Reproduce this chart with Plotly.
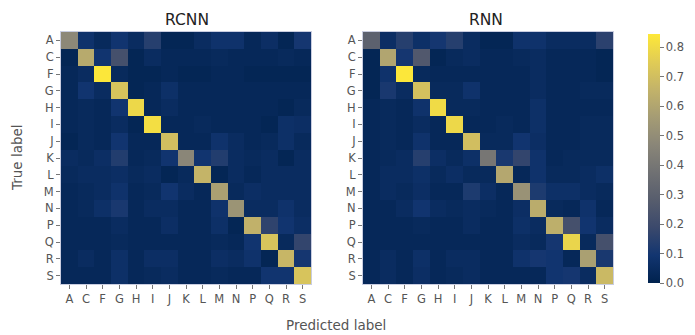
import plotly.graph_objects as go

# Class labels (rows = true label, columns = predicted label)
labels = ["A", "C", "F", "G", "H", "I", "J", "K", "L", "M", "N", "P", "Q", "R", "S"]

# Normalised confusion matrix for the RCNN model
rcnn = [
    [0.48, 0.08, 0.04, 0.09, 0.05, 0.14, 0.02, 0.02, 0.05, 0.08, 0.08, 0.03, 0.06, 0.02, 0.10],
    [0.02, 0.62, 0.09, 0.22, 0.02, 0.05, 0.03, 0.03, 0.03, 0.04, 0.03, 0.03, 0.03, 0.04, 0.03],
    [0.03, 0.05, 0.84, 0.04, 0.02, 0.02, 0.03, 0.02, 0.02, 0.03, 0.03, 0.02, 0.02, 0.02, 0.02],
    [0.03, 0.09, 0.05, 0.72, 0.02, 0.03, 0.07, 0.03, 0.03, 0.03, 0.03, 0.03, 0.03, 0.03, 0.03],
    [0.03, 0.04, 0.03, 0.09, 0.79, 0.03, 0.05, 0.03, 0.03, 0.03, 0.03, 0.03, 0.03, 0.02, 0.04],
    [0.03, 0.04, 0.03, 0.05, 0.02, 0.81, 0.03, 0.03, 0.04, 0.03, 0.03, 0.03, 0.02, 0.07, 0.06],
    [0.02, 0.04, 0.03, 0.09, 0.03, 0.03, 0.70, 0.03, 0.03, 0.08, 0.05, 0.03, 0.04, 0.07, 0.04],
    [0.05, 0.04, 0.06, 0.13, 0.03, 0.04, 0.09, 0.47, 0.09, 0.13, 0.05, 0.04, 0.05, 0.02, 0.05],
    [0.04, 0.05, 0.05, 0.06, 0.04, 0.05, 0.02, 0.04, 0.66, 0.02, 0.05, 0.03, 0.05, 0.05, 0.05],
    [0.03, 0.04, 0.05, 0.08, 0.03, 0.04, 0.09, 0.05, 0.03, 0.58, 0.04, 0.06, 0.05, 0.05, 0.05],
    [0.03, 0.04, 0.07, 0.11, 0.03, 0.05, 0.05, 0.03, 0.03, 0.08, 0.53, 0.05, 0.05, 0.08, 0.05],
    [0.03, 0.03, 0.03, 0.05, 0.03, 0.03, 0.06, 0.03, 0.03, 0.07, 0.02, 0.65, 0.16, 0.09, 0.06],
    [0.03, 0.03, 0.03, 0.04, 0.03, 0.03, 0.03, 0.03, 0.03, 0.04, 0.03, 0.09, 0.72, 0.04, 0.17],
    [0.03, 0.05, 0.03, 0.07, 0.03, 0.06, 0.06, 0.03, 0.03, 0.06, 0.05, 0.08, 0.02, 0.67, 0.10],
    [0.03, 0.03, 0.03, 0.07, 0.03, 0.04, 0.05, 0.03, 0.03, 0.04, 0.03, 0.03, 0.09, 0.09, 0.72],
]

# Normalised confusion matrix for the RNN model
rnn = [
    [0.30, 0.06, 0.14, 0.07, 0.10, 0.14, 0.05, 0.02, 0.02, 0.08, 0.08, 0.05, 0.05, 0.05, 0.15],
    [0.02, 0.60, 0.10, 0.26, 0.02, 0.04, 0.05, 0.03, 0.03, 0.04, 0.05, 0.03, 0.03, 0.03, 0.02],
    [0.02, 0.08, 0.84, 0.04, 0.03, 0.03, 0.03, 0.03, 0.03, 0.03, 0.05, 0.03, 0.03, 0.03, 0.02],
    [0.02, 0.11, 0.05, 0.71, 0.04, 0.04, 0.08, 0.03, 0.03, 0.03, 0.05, 0.03, 0.03, 0.04, 0.04],
    [0.03, 0.04, 0.03, 0.08, 0.80, 0.04, 0.04, 0.03, 0.03, 0.03, 0.07, 0.03, 0.03, 0.03, 0.03],
    [0.03, 0.04, 0.03, 0.05, 0.03, 0.79, 0.03, 0.03, 0.04, 0.03, 0.07, 0.03, 0.03, 0.04, 0.04],
    [0.03, 0.04, 0.03, 0.08, 0.03, 0.03, 0.70, 0.04, 0.04, 0.09, 0.06, 0.03, 0.03, 0.04, 0.04],
    [0.03, 0.04, 0.05, 0.14, 0.06, 0.04, 0.07, 0.40, 0.11, 0.17, 0.08, 0.03, 0.04, 0.04, 0.04],
    [0.03, 0.05, 0.05, 0.07, 0.04, 0.06, 0.04, 0.04, 0.61, 0.03, 0.08, 0.04, 0.04, 0.05, 0.07],
    [0.03, 0.05, 0.04, 0.06, 0.03, 0.03, 0.12, 0.06, 0.03, 0.52, 0.12, 0.07, 0.07, 0.05, 0.04],
    [0.03, 0.03, 0.05, 0.09, 0.05, 0.04, 0.05, 0.04, 0.03, 0.06, 0.63, 0.04, 0.03, 0.08, 0.03],
    [0.03, 0.03, 0.03, 0.04, 0.03, 0.03, 0.05, 0.03, 0.03, 0.07, 0.05, 0.64, 0.22, 0.09, 0.05],
    [0.03, 0.03, 0.03, 0.03, 0.03, 0.03, 0.03, 0.03, 0.03, 0.05, 0.04, 0.10, 0.78, 0.04, 0.22],
    [0.03, 0.05, 0.03, 0.07, 0.03, 0.05, 0.05, 0.03, 0.03, 0.08, 0.10, 0.09, 0.03, 0.58, 0.11],
    [0.03, 0.05, 0.03, 0.06, 0.03, 0.04, 0.05, 0.03, 0.03, 0.03, 0.03, 0.09, 0.10, 0.05, 0.68],
]

colorbar_ticks = [0.0, 0.1, 0.2, 0.3, 0.4, 0.5, 0.6, 0.7, 0.8]

FONT = "DejaVu Sans"
GREY = "#555555"
W, H = 695, 335

fig = go.Figure()
fig.add_trace(go.Heatmap(z=rcnn, x=labels, y=labels, coloraxis="coloraxis",
                         xaxis="x", yaxis="y"))
fig.add_trace(go.Heatmap(z=rnn, x=labels, y=labels, coloraxis="coloraxis",
                         xaxis="x2", yaxis="y2"))

y_dom = [1 - 284 / H, 1 - 32 / H]
axis_common = dict(
    ticks="outside", ticklen=4, tickcolor="#777777", tickwidth=1,
    tickfont=dict(family=FONT, size=11.5, color=GREY),
    showgrid=False, zeroline=False,
    showline=True, linecolor="#c9cde0", linewidth=1, mirror=True,
    type="category",
)


def label(text, x, y, size, color, angle=0):
    return dict(text=text, x=x / W, y=1 - y / H, xref="paper", yref="paper",
                xanchor="center", yanchor="middle", textangle=angle,
                showarrow=False, font=dict(family=FONT, size=size, color=color))


fig.update_layout(
    width=W, height=H,
    margin=dict(l=0, r=0, t=0, b=0),
    paper_bgcolor="white", plot_bgcolor="white",
    font=dict(family=FONT, color=GREY),
    xaxis=dict(domain=[61 / W, 311 / W], anchor="y", **axis_common),
    yaxis=dict(domain=y_dom, anchor="x", autorange="reversed", **axis_common),
    xaxis2=dict(domain=[363 / W, 613 / W], anchor="y2", **axis_common),
    yaxis2=dict(domain=y_dom, anchor="x2", autorange="reversed", **axis_common),
    coloraxis=dict(
        colorscale="cividis", cmin=0.0, cmax=0.845,
        colorbar=dict(
            x=648 / W, xanchor="left", xpad=0,
            y=1 - 158.5 / H, yanchor="middle", ypad=0,
            len=249 / H, lenmode="fraction",
            thickness=12, outlinewidth=0,
            tickvals=colorbar_ticks,
            ticktext=[f"{v:.1f}" for v in colorbar_ticks],
            ticks="outside", ticklen=4, tickcolor="#777777",
            tickfont=dict(family=FONT, size=11.5, color=GREY),
        ),
    ),
    annotations=[
        label("RCNN", 187, 20, 15.5, "#222222"),
        label("RNN", 486, 20, 15.5, "#222222"),
        label("True label", 17, 158, 13.5, GREY, angle=-90),
        label("Predicted label", 336, 325, 13.5, GREY),
    ],
)

fig.write_html("out.html")
